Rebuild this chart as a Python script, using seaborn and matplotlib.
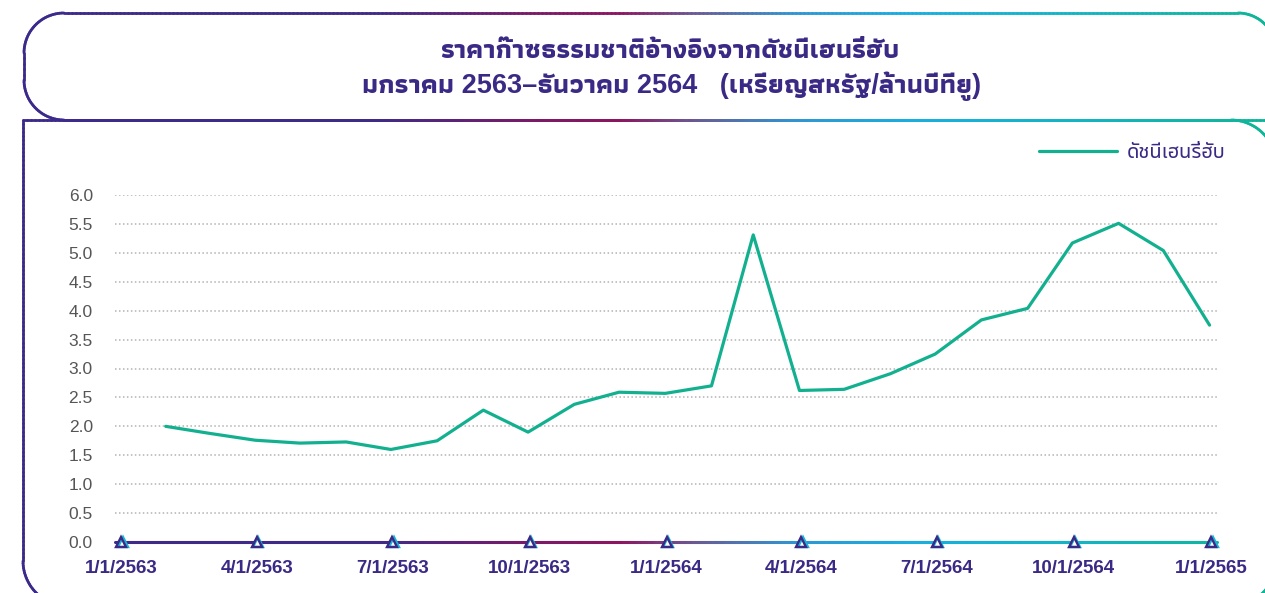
import numpy as np
import pandas as pd
import matplotlib
matplotlib.use("Agg")
import matplotlib.pyplot as plt
import matplotlib.transforms as mtransforms
from matplotlib.collections import LineCollection
from matplotlib.colors import LinearSegmentedColormap
import seaborn as sns

# --- data (Henry Hub, USD/MMBtu) ---
months = ["2020-01-31", "2020-02-29", "2020-03-31", "2020-04-30", "2020-05-31", "2020-06-30",
          "2020-07-31", "2020-08-31", "2020-09-30", "2020-10-31", "2020-11-30", "2020-12-31",
          "2021-01-31", "2021-02-28", "2021-03-31", "2021-04-30", "2021-05-31", "2021-06-30",
          "2021-07-31", "2021-08-31", "2021-09-30", "2021-10-31", "2021-11-30", "2021-12-31"]
henry_hub = [2.00, 1.88, 1.76, 1.71, 1.73, 1.60, 1.75, 2.28, 1.90, 2.38, 2.59, 2.57,
             2.70, 5.31, 2.62, 2.64, 2.91, 3.25, 3.84, 4.04, 5.17, 5.51, 5.04, 3.75]
tick_dates = ["2020-01-01", "2020-04-01", "2020-07-01", "2020-10-01", "2021-01-01",
              "2021-04-01", "2021-07-01", "2021-10-01", "2022-01-01"]
tick_labels = ["1/1/2563", "4/1/2563", "7/1/2563", "10/1/2563", "1/1/2564",
               "4/1/2564", "7/1/2564", "10/1/2564", "1/1/2565"]
y_ticks = [0.0, 0.5, 1.0, 1.5, 2.0, 2.5, 3.0, 3.5, 4.0, 4.5, 5.0, 5.5, 6.0]

series_name = "ดัชนีเฮนรี่ฮับ"
title_1 = "ราคาก๊าซธรรมชาติอ้างอิงจากดัชนีเฮนรี่ฮับ"
title_2 = "มกราคม 2563–ธันวาคม 2564   (เหรียญสหรัฐ/ล้านบีทียู)"

df = pd.DataFrame({"date": pd.to_datetime(months), "value": henry_hub})

PURPLE = "#3b2a85"
TEAL = "#13b090"
W, H = 1265, 593
THAI = ["Noto Sans Thai UI", "Liberation Sans", "DejaVu Sans"]
THAI_BOLD = ["Liberation Sans", "Athiti", "DejaVu Sans"]

sns.set_style("white")
plt.rcParams["font.family"] = ["Liberation Sans", "Noto Sans Thai UI", "DejaVu Sans"]

grad = LinearSegmentedColormap.from_list("border", [
    (0.00, "#3c2a8a"), (0.30, "#402a88"), (0.42, "#7a1a68"), (0.49, "#8c1560"),
    (0.55, "#6a5a94"), (0.63, "#2e96d3"), (0.72, "#19aee0"), (0.85, "#12b5c4"),
    (1.00, "#0fb597")])

fig = plt.figure(figsize=(W / 100, H / 100), dpi=100)
ax = fig.add_axes([115 / W, 1 - 542 / H, (1217 - 115) / W, (542 - 195) / H])

sns.lineplot(data=df, x="date", y="value", ax=ax, color=TEAL, linewidth=2.3,
             label=series_name, zorder=3)

x0 = pd.Timestamp("2020-01-01") - pd.Timedelta(days=4)
x1 = pd.Timestamp("2022-01-01") + pd.Timedelta(days=4)
ax.set_xlim(x0, x1)
ax.set_ylim(0, 6)

ax.set_yticks(y_ticks)
ax.set_yticklabels([f"{v:.1f}" for v in y_ticks])
ax.set_xticks(pd.to_datetime(tick_dates))
ax.set_xticklabels(tick_labels)
ax.tick_params(axis="y", length=0, pad=16, labelsize=12.5, labelcolor="#555555")
ax.tick_params(axis="x", length=0, pad=13, labelsize=13.5, labelcolor=PURPLE)
for lab in ax.get_xticklabels():
    lab.set_fontweight("bold")
ax.set_xlabel("")
ax.set_ylabel("")
for s in ax.spines.values():
    s.set_visible(False)
ax.yaxis.grid(True, color="#b3b3b3", linewidth=1.1, linestyle=(0, (1, 1.6)))
ax.xaxis.grid(False)

# gradient baseline along y = 0
xs = np.linspace(matplotlib.dates.date2num(x0), matplotlib.dates.date2num(x1), 400)
pts = np.column_stack([xs, np.zeros_like(xs)])
segs = np.stack([pts[:-1], pts[1:]], axis=1)
xpix = 115 + (np.arange(len(segs)) + 0.5) / len(segs) * (1217 - 115)
base = LineCollection(segs, colors=grad(xpix / W), linewidths=2.2, clip_on=False,
                      zorder=4, capstyle="round")
ax.add_collection(base)

# small marker at each date tick
tick_x = pd.to_datetime(tick_dates)
shift = mtransforms.offset_copy(ax.transData, fig=fig, x=1.6, y=0, units="dots")
ax.plot(tick_x, [0] * len(tick_x), linestyle="none", marker="^", ms=6.5, mfc="white",
        mec="#18b4d8", mew=1.7, clip_on=False, zorder=5, transform=shift)
ax.plot(tick_x, [0] * len(tick_x), linestyle="none", marker="^", ms=6.5, mfc="none",
        mec=PURPLE, mew=1.7, clip_on=False, zorder=6)

leg = ax.legend(loc="center right", bbox_to_anchor=(1226 / W, 1 - 153 / H),
                bbox_transform=fig.transFigure, frameon=False,
                prop={"family": THAI, "size": 14.5},
                handlelength=3.9, handletextpad=0.5, borderpad=0, borderaxespad=0,
                labelcolor=PURPLE)
for line in leg.get_lines():
    line.set_linewidth(2.3)

fig.text(670 / W, 1 - 51 / H, title_1, ha="center", va="center", fontsize=19.5,
         fontweight="bold", color=PURPLE, family=THAI_BOLD)
fig.text(672 / W, 1 - 86 / H, title_2, ha="center", va="center", fontsize=19.5,
         fontweight="bold", color=PURPLE, family=THAI_BOLD)


# rounded frames with a left-to-right colour gradient, drawn in pixel space
def rounded_path(x0, y0, x1, y1, r_tl, r_tr, r_br, r_bl):
    def line(a, b):
        n = max(int(np.hypot(b[0] - a[0], b[1] - a[1]) / 4), 2)
        t = np.linspace(0, 1, n)
        return np.column_stack([a[0] + (b[0] - a[0]) * t, a[1] + (b[1] - a[1]) * t])

    def arc(cx, cy, r, t0, t1):
        t = np.radians(np.linspace(t0, t1, 30))
        return np.column_stack([cx + r * np.cos(t), cy + r * np.sin(t)])

    parts = [line((x0 + r_tl, y0), (x1 - r_tr, y0)),
             arc(x1 - r_tr, y0 + r_tr, r_tr, -90, 0),
             line((x1, y0 + r_tr), (x1, y1 - r_br)),
             arc(x1 - r_br, y1 - r_br, r_br, 0, 90),
             line((x1 - r_br, y1), (x0 + r_bl, y1)),
             arc(x0 + r_bl, y1 - r_bl, r_bl, 90, 180),
             line((x0, y1 - r_bl), (x0, y0 + r_tl)),
             arc(x0 + r_tl, y0 + r_tl, r_tl, 180, 270)]
    return np.vstack(parts + [parts[0][:1]])


over = fig.add_axes([0, 0, 1, 1], zorder=10)
over.set_xlim(0, W)
over.set_ylim(H, 0)
over.axis("off")
over.patch.set_visible(False)
for p in [rounded_path(24, 13, 1276, 120, 40, 38, 0, 40),
          rounded_path(23, 120, 1276, 606, 0, 45, 45, 45)]:
    s = np.stack([p[:-1], p[1:]], axis=1)
    c = grad(np.clip(s[:, :, 0].mean(axis=1) / W, 0, 1))
    over.add_collection(LineCollection(s, colors=c, linewidths=2.0, capstyle="round"))

fig.savefig("out.png", dpi=100)
plt.close(fig)
